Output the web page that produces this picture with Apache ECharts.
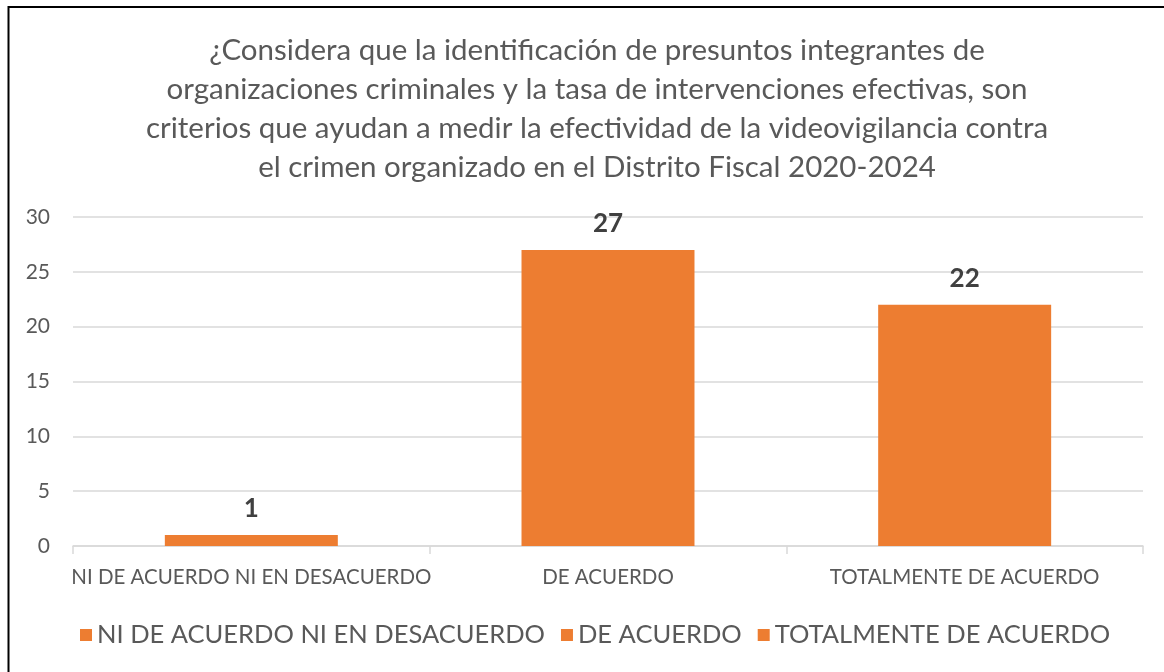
<!DOCTYPE html>
<html>
<head>
<meta charset="utf-8">
<script src="https://cdn.jsdelivr.net/npm/echarts@6/dist/echarts.min.js"></script>
<style>
  html, body { margin: 0; padding: 0; background: #fff; }
  #chart { width: 1164px; height: 672px; }
</style>
</head>
<body>
<div id="chart"></div>
<script>
// 数据
const categories = ["NI DE ACUERDO NI EN DESACUERDO", "DE ACUERDO", "TOTALMENTE DE ACUERDO"];
const values = [1, 27, 22];
const yTicks = { min: 0, max: 30, interval: 5 };
const titleText = "¿Considera que la identificación de presuntos integrantes de\norganizaciones criminales y la tasa de intervenciones efectivas, son\ncriterios que ayudan a medir la efectividad de la videovigilancia contra\nel crimen organizado en el Distrito Fiscal 2020-2024";

const FONT = "Lato, 'Open Sans', sans-serif";
const GRAY = "#595959";
const ORANGE = "#ED7D31";

const chart = echarts.init(document.getElementById("chart"));

// 每个类别一个系列，堆叠后居中，图例才能显示三项
const series = categories.map((name, i) => ({
  name: name,
  type: "bar",
  stack: "total",
  barWidth: "48.5%",
  itemStyle: { color: ORANGE },
  label: {
    show: true,
    position: "top",
    distance: 13,
    color: "#404040",
    fontSize: 26,
    fontWeight: "bold",
    fontFamily: FONT
  },
  data: values.map((v, j) => (j === i ? v : "-"))
}));

const option = {
  animation: false,
  title: {
    text: titleText,
    left: 592,
    top: 26,
    textAlign: "center",
    textStyle: {
      color: GRAY,
      fontSize: 29.5,
      fontWeight: "normal",
      fontFamily: FONT,
      lineHeight: 39
    }
  },
  legend: {
    bottom: 19,
    left: 75,
    icon: "rect",
    itemWidth: 12,
    itemHeight: 12,
    itemGap: 16,
    textStyle: { color: GRAY, fontSize: 25.5, fontFamily: FONT },
    data: categories
  },
  grid: {
    left: 73,
    right: 21,
    top: 217,
    bottom: 126,
    containLabel: false
  },
  xAxis: {
    type: "category",
    data: categories,
    axisLine: { lineStyle: { color: "#D9D9D9", width: 1.5 } },
    axisTick: { show: true, alignWithLabel: false, length: 8, lineStyle: { color: "#D9D9D9", width: 1.5 } },
    axisLabel: { color: GRAY, fontSize: 20.5, fontFamily: FONT, margin: 21, interval: 0 }
  },
  yAxis: {
    type: "value",
    min: yTicks.min,
    max: yTicks.max,
    interval: yTicks.interval,
    axisLine: { show: false },
    axisTick: { show: false },
    axisLabel: { color: GRAY, fontSize: 21, fontFamily: FONT, margin: 23 },
    splitLine: { lineStyle: { color: "#D9D9D9", width: 1.5 } }
  },
  // 外框（只有左边和上边可见）
  graphic: [
    { type: "line", shape: { x1: 8.5, y1: 6, x2: 8.5, y2: 672 }, style: { stroke: "#000", lineWidth: 2 } },
    { type: "line", shape: { x1: 8, y1: 7, x2: 1164, y2: 7 }, style: { stroke: "#000", lineWidth: 2 } }
  ],
  series: series
};

chart.setOption(option);
window.addEventListener("resize", () => {
  chart.resize();
});
</script>
</body>
</html>
